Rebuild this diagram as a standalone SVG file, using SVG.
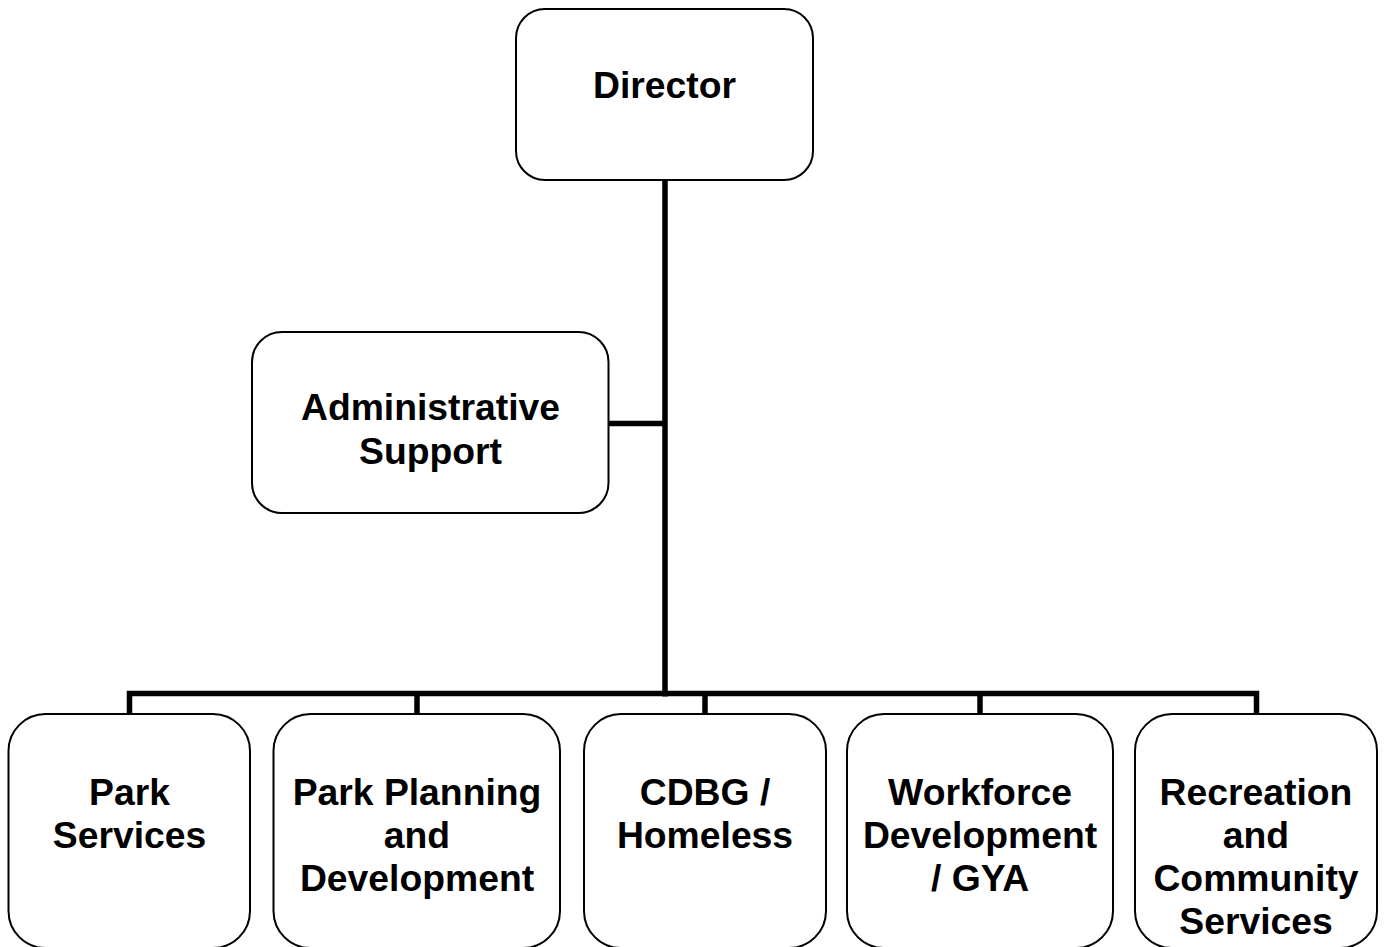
<svg xmlns="http://www.w3.org/2000/svg" width="1387" height="947" viewBox="0 0 1387 947">
<style>
.box{fill:#fff;stroke:#000;stroke-width:2}
.lbl{font-family:"Liberation Sans",Arial,sans-serif;font-weight:bold;font-size:37.3px;fill:#000;text-anchor:middle}
.con{fill:none;stroke:#000;stroke-width:5.5;stroke-linecap:butt}
</style>
<rect width="1387" height="947" fill="#fff"/>
<g id="connectors">
<line class="con" x1="665" y1="180" x2="665" y2="696.5"/>
<line class="con" x1="608.5" y1="423.5" x2="665" y2="423.5"/>
<polyline class="con" points="129.5,713 129.5,693.5 1256.5,693.5 1256.5,713"/>
<line class="con" x1="417" y1="693.5" x2="417" y2="713"/>
<line class="con" x1="705" y1="693.5" x2="705" y2="713"/>
<line class="con" x1="980" y1="693.5" x2="980" y2="713"/>
</g>
<g id="director">
<rect class="box" x="516" y="9" width="297" height="171" rx="29" ry="29"/>
<text class="lbl" x="664.5" y="98">Director</text>
</g>
<g id="admin">
<rect class="box" x="252" y="332" width="356.5" height="181" rx="30" ry="30"/>
<text class="lbl" x="430.5" y="420">Administrative</text>
<text class="lbl" x="430.5" y="464">Support</text>
</g>
<g id="park-services">
<rect class="box" x="8.5" y="714" width="241.5" height="234" rx="37" ry="37"/>
<text class="lbl" x="129.5" y="805">Park</text>
<text class="lbl" x="129.5" y="848">Services</text>
</g>
<g id="park-planning">
<rect class="box" x="273.5" y="714" width="286.5" height="234" rx="37" ry="37"/>
<text class="lbl" x="417" y="805">Park Planning</text>
<text class="lbl" x="417" y="848">and</text>
<text class="lbl" x="417" y="891">Development</text>
</g>
<g id="cdbg">
<rect class="box" x="584" y="714" width="242" height="234" rx="37" ry="37"/>
<text class="lbl" x="705" y="805">CDBG /</text>
<text class="lbl" x="705" y="848">Homeless</text>
</g>
<g id="workforce">
<rect class="box" x="847" y="714" width="266" height="234" rx="37" ry="37"/>
<text class="lbl" x="980" y="805">Workforce</text>
<text class="lbl" x="980" y="848">Development</text>
<text class="lbl" x="980" y="891">/ GYA</text>
</g>
<g id="recreation">
<rect class="box" x="1135" y="714" width="242" height="234" rx="37" ry="37"/>
<text class="lbl" x="1256" y="805">Recreation</text>
<text class="lbl" x="1256" y="848">and</text>
<text class="lbl" x="1256" y="891">Community</text>
<text class="lbl" x="1256" y="934">Services</text>
</g>
</svg>
